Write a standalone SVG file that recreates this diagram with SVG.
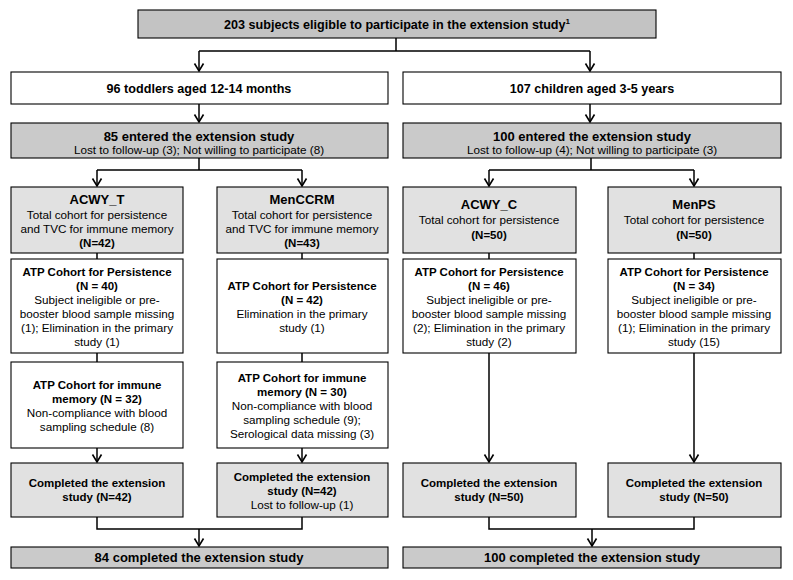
<svg xmlns="http://www.w3.org/2000/svg" width="793" height="580" viewBox="0 0 793 580">
<style>
text{font-family:"Liberation Sans",Arial,Helvetica,sans-serif;fill:#000;text-anchor:middle}
.box{stroke:#000;stroke-width:1.1}
.w{fill:#fff}
.d{fill:#c3c3c3}
.m{fill:#cacaca}
.l{fill:#e1e1e1}
.h1{font-size:12.6px;font-weight:bold}
.h2{font-size:13px;font-weight:bold}
.b{font-size:11.5px;font-weight:bold}
.r{font-size:11.7px}
.c{fill:none;stroke:#000;stroke-width:1.5}
</style>
<defs>
<marker id="arr" markerUnits="userSpaceOnUse" markerWidth="10" markerHeight="12" viewBox="0 0 10 12" refX="8.5" refY="6" orient="auto">
<path d="M1,1.5 L8.5,6 L1,10.5" fill="none" stroke="#000" stroke-width="1.6"/>
</marker>
</defs>
<rect width="793" height="580" fill="#fff"/>

<g id="connectors" class="c">
<path d="M396,38 V51 M199,51 H590"/>
<path d="M199,51 V71" marker-end="url(#arr)"/>
<path d="M590,51 V71" marker-end="url(#arr)"/>
<path d="M199,104 V122" marker-end="url(#arr)"/>
<path d="M590,104 V122" marker-end="url(#arr)"/>
<path d="M199,158 V170 M97,170 H302"/>
<path d="M97,170 V186" marker-end="url(#arr)"/>
<path d="M302,170 V186" marker-end="url(#arr)"/>
<path d="M591,158 V170 M489,170 H694"/>
<path d="M489,170 V186" marker-end="url(#arr)"/>
<path d="M694,170 V186" marker-end="url(#arr)"/>
<path d="M97,253 V259 M302,253 V259 M489,253 V259 M694,253 V259"/>
<path d="M97,353 V362 M302,353 V362"/>
<path d="M97,448 V462" marker-end="url(#arr)"/>
<path d="M302,448 V462" marker-end="url(#arr)"/>
<path d="M489,353 V462" marker-end="url(#arr)"/>
<path d="M694,353 V462" marker-end="url(#arr)"/>
<path d="M97,517 V529 H302 V517"/>
<path d="M199,529 V546" marker-end="url(#arr)"/>
<path d="M489,517 V529 H694 V517"/>
<path d="M592,529 V546" marker-end="url(#arr)"/>
</g>

<g id="eligible">
<rect class="box d" x="138" y="10" width="518" height="28"/>
<text class="h1" x="397" y="28.5">203 subjects eligible to participate in the extension study<tspan font-size="8" dy="-5">1</tspan></text>
</g>

<g id="toddlers">
<rect class="box w" x="11" y="72" width="377" height="32"/>
<text class="h1" x="199" y="92.5">96 toddlers aged 12-14 months</text>
</g>
<g id="children">
<rect class="box w" x="403" y="72" width="378" height="32"/>
<text class="h1" x="592" y="92.5">107 children aged 3-5 years</text>
</g>

<g id="entered-toddlers">
<rect class="box m" x="11" y="123" width="377" height="35"/>
<text class="h2" x="199" y="140.5">85 entered the extension study</text>
<text class="r" x="199" y="154">Lost to follow-up (3); Not willing to participate (8)</text>
</g>
<g id="entered-children">
<rect class="box m" x="403" y="123" width="378" height="35"/>
<text class="h2" x="592" y="140.5">100 entered the extension study</text>
<text class="r" x="592" y="154">Lost to follow-up (4); Not willing to participate (3)</text>
</g>

<g id="acwy-t">
<rect class="box l" x="11" y="187" width="172" height="66"/>
<text class="h2" x="97" y="204">ACWY_T</text>
<text class="r" x="97" y="219">Total cohort for persistence</text>
<text class="r" x="97" y="232.5">and TVC for immune memory</text>
<text class="b" x="97" y="246.5">(N=42)</text>
</g>
<g id="menccrm">
<rect class="box l" x="217" y="187" width="171" height="66"/>
<text class="h2" x="302" y="204">MenCCRM</text>
<text class="r" x="302" y="219">Total cohort for persistence</text>
<text class="r" x="302" y="232.5">and TVC for immune memory</text>
<text class="b" x="302" y="246.5">(N=43)</text>
</g>
<g id="acwy-c">
<rect class="box l" x="403" y="187" width="173" height="66"/>
<text class="h2" x="489" y="209">ACWY_C</text>
<text class="r" x="489" y="224">Total cohort for persistence</text>
<text class="b" x="489" y="238.5">(N=50)</text>
</g>
<g id="menps">
<rect class="box l" x="608" y="187" width="173" height="66"/>
<text class="h2" x="694" y="209">MenPS</text>
<text class="r" x="694" y="224">Total cohort for persistence</text>
<text class="b" x="694" y="238.5">(N=50)</text>
</g>

<g id="atp-pers-acwy-t">
<rect class="box w" x="11" y="259" width="172" height="94"/>
<text class="b" x="97" y="276">ATP Cohort for Persistence</text>
<text class="b" x="97" y="290">(N = 40)</text>
<text class="r" x="97" y="304">Subject ineligible or pre-</text>
<text class="r" x="97" y="318">booster blood sample missing</text>
<text class="r" x="97" y="332">(1); Elimination in the primary</text>
<text class="r" x="97" y="346">study (1)</text>
</g>
<g id="atp-pers-menccrm">
<rect class="box w" x="217" y="259" width="171" height="94"/>
<text class="b" x="302" y="290">ATP Cohort for Persistence</text>
<text class="b" x="302" y="304">(N = 42)</text>
<text class="r" x="302" y="318">Elimination in the primary</text>
<text class="r" x="302" y="332">study (1)</text>
</g>
<g id="atp-pers-acwy-c">
<rect class="box w" x="403" y="259" width="173" height="94"/>
<text class="b" x="489" y="276">ATP Cohort for Persistence</text>
<text class="b" x="489" y="290">(N = 46)</text>
<text class="r" x="489" y="304">Subject ineligible or pre-</text>
<text class="r" x="489" y="318">booster blood sample missing</text>
<text class="r" x="489" y="332">(2); Elimination in the primary</text>
<text class="r" x="489" y="346">study (2)</text>
</g>
<g id="atp-pers-menps">
<rect class="box w" x="608" y="259" width="173" height="94"/>
<text class="b" x="694" y="276">ATP Cohort for Persistence</text>
<text class="b" x="694" y="290">(N = 34)</text>
<text class="r" x="694" y="304">Subject ineligible or pre-</text>
<text class="r" x="694" y="318">booster blood sample missing</text>
<text class="r" x="694" y="332">(1); Elimination in the primary</text>
<text class="r" x="694" y="346">study (15)</text>
</g>

<g id="atp-mem-acwy-t">
<rect class="box w" x="11" y="362" width="172" height="86"/>
<text class="b" x="97" y="389">ATP Cohort for immune</text>
<text class="b" x="97" y="403">memory (N = 32)</text>
<text class="r" x="97" y="417">Non-compliance with blood</text>
<text class="r" x="97" y="431">sampling schedule (8)</text>
</g>
<g id="atp-mem-menccrm">
<rect class="box w" x="217" y="362" width="171" height="86"/>
<text class="b" x="302" y="382">ATP Cohort for immune</text>
<text class="b" x="302" y="396">memory (N = 30)</text>
<text class="r" x="302" y="410">Non-compliance with blood</text>
<text class="r" x="302" y="424">sampling schedule (9);</text>
<text class="r" x="302" y="438">Serological data missing (3)</text>
</g>

<g id="completed-acwy-t">
<rect class="box l" x="11" y="463" width="172" height="54"/>
<text class="b" x="97" y="487">Completed the extension</text>
<text class="b" x="97" y="501">study (N=42)</text>
</g>
<g id="completed-menccrm">
<rect class="box l" x="217" y="463" width="171" height="54"/>
<text class="b" x="302" y="481">Completed the extension</text>
<text class="b" x="302" y="495">study (N=42)</text>
<text class="r" x="302" y="509">Lost to follow-up (1)</text>
</g>
<g id="completed-acwy-c">
<rect class="box l" x="403" y="463" width="173" height="54"/>
<text class="b" x="489" y="487">Completed the extension</text>
<text class="b" x="489" y="501">study (N=50)</text>
</g>
<g id="completed-menps">
<rect class="box l" x="608" y="463" width="173" height="54"/>
<text class="b" x="694" y="487">Completed the extension</text>
<text class="b" x="694" y="501">study (N=50)</text>
</g>

<g id="final-toddlers">
<rect class="box m" x="11" y="547" width="377" height="21"/>
<text class="h2" x="199" y="562">84 completed the extension study</text>
</g>
<g id="final-children">
<rect class="box m" x="403" y="547" width="378" height="21"/>
<text class="h2" x="592" y="562">100 completed the extension study</text>
</g>
</svg>
